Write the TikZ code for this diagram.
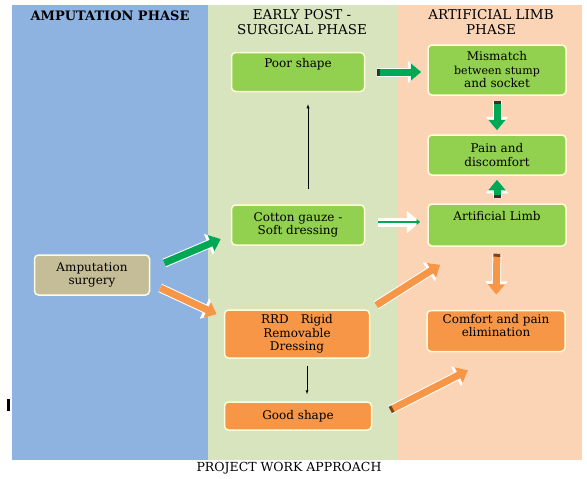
\documentclass[tikz,border=0pt]{standalone}
\usepackage{fontspec}
\setmainfont{DejaVu Serif}
\usetikzlibrary{arrows.meta}
\definecolor{ampblue}{RGB}{142,179,225}
\definecolor{earlygreen}{RGB}{215,228,189}
\definecolor{limbpeach}{RGB}{251,212,182}
\definecolor{boxgreen}{RGB}{146,208,80}
\definecolor{boxorange}{RGB}{247,150,70}
\definecolor{boxtan}{RGB}{196,189,151}
\definecolor{arrowgreen}{RGB}{0,168,84}
\definecolor{tailbrown}{RGB}{120,70,30}
\tikzstyle{phasebox}=[rounded corners=4pt, draw=white!85!yellow, line width=1.5pt, align=center, inner sep=2pt, font=\fontsize{12}{13.5}\selectfont]
\tikzset{greenbox/.style={phasebox, fill=boxgreen, minimum width=138pt, minimum height=42pt}}
\tikzset{orangebox/.style={phasebox, fill=boxorange, minimum width=145pt}}
\tikzset{phasetitle/.style={align=center, font=\fontsize{13.5}{14.5}\selectfont}}
\tikzset{fatarrow/.style={draw=#1, line width=7pt, -{Triangle[length=0pt 1.5, width=0pt 2.4]},
    preaction={draw=white, line width=9pt, -{Triangle[length=0pt 1.5, width=0pt 2.4]}}}}
\tikzset{tail/.style={{Rectangle[#1, length=3pt, width=0pt 1]}-{Triangle[length=0pt 1.5, width=0pt 2.4]}}}

\begin{document}
\begin{tikzpicture}[x=1pt,y=-1pt]
  \useasboundingbox (0,0) rectangle (587,479);
  %% Phase panels
  \fill[ampblue] (12,5) rectangle (208,460);
  \fill[earlygreen] (208,5) rectangle (397,460);
  \fill[limbpeach] (397,5) rectangle (582,460);
  \fill[black] (7,399) rectangle (10,411);

  \draw (110,16) node[phasetitle, font=\fontsize{13}{14}\bfseries] (T1) {AMPUTATION PHASE};
  \draw (302,22) node[phasetitle] (T2) {EARLY POST -\\SURGICAL PHASE};
  \draw (491,22) node[phasetitle] (T3) {ARTIFICIAL LIMB\\PHASE};

  %% Boxes
  \draw (92,275) node[phasebox, fill=boxtan, minimum width=115pt, minimum height=40pt] (amp) {Amputation\\surgery};
  \draw (298,72) node[greenbox, minimum width=133pt, minimum height=39pt] (poor) {Poor shape\\ \strut};
  \draw (298,225) node[greenbox, minimum width=133pt, minimum height=40pt] (cotton) {Cotton gauze -\\Soft dressing};
  \draw (497,70) node[greenbox, minimum height=50pt] (mismatch) {Mismatch\\{\fontsize{11}{12.5}\selectfont between stump}\\and socket};
  \draw (497,155) node[greenbox, minimum height=40pt] (pain) {Pain and\\discomfort};
  \draw (497,225) node[greenbox, minimum height=42pt] (limb) {Artificial Limb\\ \strut};
  \draw (297,334) node[orangebox, minimum height=48pt] (rrd) {RRD\quad Rigid\\Removable\\Dressing};
  \draw (298,416) node[orangebox, minimum width=147pt, minimum height=28pt] (good) {Good shape};
  \draw (496,331) node[orangebox, minimum width=138pt, minimum height=41pt] (comfort) {Comfort and pain\\elimination\\[-2pt]};

  %% Arrows
  \draw[fatarrow=arrowgreen] ([shift={(14,-12)}]amp.east) -- ([shift={(-10,14)}]cotton.west);
  \draw[fatarrow=boxorange] ([shift={(10,13)}]amp.east) -- ([shift={(-7,5)}]rrd.north west);
  \draw[-latex, thin] ([xshift=10pt,yshift=15pt]cotton.north) -- ([xshift=10pt,yshift=-12pt]poor.south);
  \draw[fatarrow=arrowgreen, tail=black!80, shorten <=12pt, shorten >=6pt] (poor.east) -- (poor.east -| mismatch.west);
  \draw[fatarrow=arrowgreen, tail=black!80, shorten <=5pt, shorten >=4pt] (mismatch.south) -- (pain.north);
  \draw[fatarrow=arrowgreen, tail=black!80, shorten <=5pt, shorten >=4pt] (limb.north) -- (pain.south);
  \draw[fatarrow=arrowgreen, line width=2.5pt, shorten <=13pt, shorten >=7pt] ([yshift=3pt]cotton.east) -- ([yshift=3pt]cotton.east -| limb.west);
  \draw[fatarrow=boxorange] ([shift={(6,-4)}]rrd.north east) -- ([shift={(13,18)}]limb.south west);
  \draw[fatarrow=boxorange, tail=tailbrown, shorten <=7pt, shorten >=15pt] (limb.south) -- (comfort.north);
  \draw[-latex, thin, shorten <=7pt, shorten >=7pt] ([xshift=10pt]rrd.south) -- ([xshift=10pt]rrd.south |- good.north);
  \draw[fatarrow=boxorange, tail=tailbrown] ([shift={(18,-6)}]good.east) -- ([shift={(-28,18)}]comfort.south);

  %% Caption
  \draw (289,468) node[font=\fontsize{12.5}{14}\selectfont] (caption) {PROJECT WORK APPROACH};
\end{tikzpicture}
\end{document}
